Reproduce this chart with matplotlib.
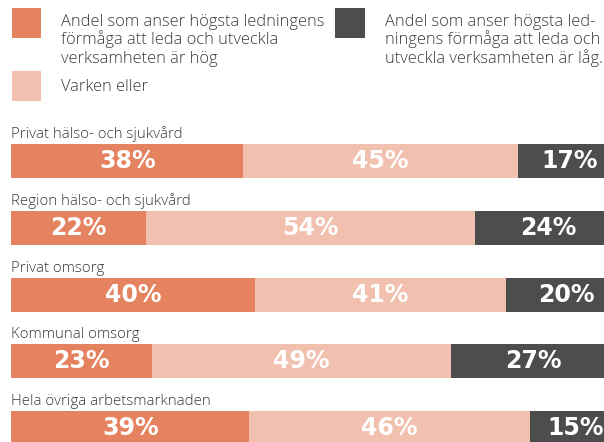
import matplotlib.pyplot as plt
from matplotlib.patches import Rectangle

# data
kategorier = [
    "Privat hälso- och sjukvård",
    "Region hälso- och sjukvård",
    "Privat omsorg",
    "Kommunal omsorg",
    "Hela övriga arbetsmarknaden",
]
hog = [38, 22, 40, 23, 39]
varken = [45, 54, 41, 49, 46]
lag = [17, 24, 20, 27, 15]

legend_texter = [
    "Andel som anser högsta ledningens\nförmåga att leda och utveckla\nverksamheten är hög",
    "Varken eller",
    "Andel som anser högsta led-\nningens förmåga att leda och\nutveckla verksamheten är låg.",
]

farg_hog = "#E5825F"
farg_varken = "#F1C0AE"
farg_lag = "#4D4D4D"
textfarg = "#3a3a3a"

W, H = 604, 442
fig = plt.figure(figsize=(W / 100, H / 100), dpi=100)
fig.patch.set_facecolor("white")

# axes over hela figuren, x i procent, y i pixlar (nedåt)
px_per_procent = 6.1
x0 = 11.5
ax = fig.add_axes([0, 0, 1, 1])
ax.set_xlim(-x0 / px_per_procent, (W - x0) / px_per_procent)
ax.set_ylim(H, 0)
ax.axis("off")

bar_h = 34
forsta_mitt = 161
steg = 66.8

procent_font = dict(family=["DejaVu Sans"], weight="bold", size=17, color="white")
kat_font = dict(family=["Open Sans", "DejaVu Sans"], weight="light", size=10.8, color=textfarg)

for i, namn in enumerate(kategorier):
    y = forsta_mitt + i * steg
    vals = [hog[i], varken[i], lag[i]]
    farger = [farg_hog, farg_varken, farg_lag]
    start = 0
    for v, f in zip(vals, farger):
        ax.barh(y, v, left=start, height=bar_h, color=f, linewidth=0)
        ax.text(start + v / 2, y, f"{v}%", ha="center", va="center", **procent_font)
        start += v
    ax.text(0, y - bar_h / 2 - 6, namn, ha="left", va="baseline", **kat_font)


def fig_px(x, y):
    return x / W, 1 - y / H


# legend
legend_font = dict(family=["Open Sans", "DejaVu Sans"], weight="light", size=11.8,
                   color=textfarg)
rutor = [(11.5, 8, farg_hog), (11.5, 71, farg_varken), (335, 8, farg_lag)]
text_pos = [(61, 26), (61, 91), (385, 26)]
for (rx, ry, f), txt, (tx, ty) in zip(rutor, legend_texter, text_pos):
    fx, fy = fig_px(rx, ry + 30)
    fig.add_artist(Rectangle((fx, fy), 30 / W, 30 / H, transform=fig.transFigure,
                             color=f, linewidth=0))
    for j, rad in enumerate(txt.split("\n")):
        lx, ly = fig_px(tx, ty + j * 18.5)
        fig.text(lx, ly, rad, ha="left", va="baseline", **legend_font)

fig.savefig("out.png", dpi=100)
